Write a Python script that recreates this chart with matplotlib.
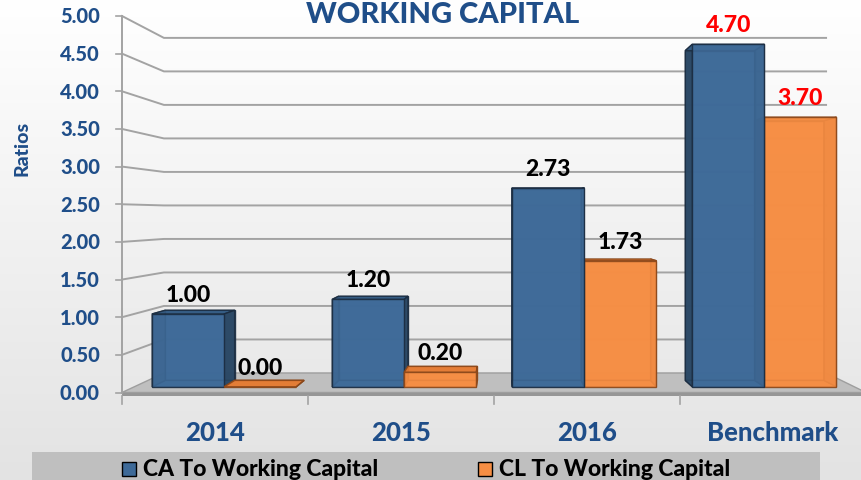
"""
Working capital ratios: 3D-look clustered columns (CA vs CL to working capital),
drawn on one full-figure axes with a small perspective helper.
"""
import numpy as np
import matplotlib
matplotlib.use("Agg")
import matplotlib.pyplot as plt
from matplotlib.patches import Polygon, Rectangle
from matplotlib.colors import LinearSegmentedColormap

plt.rcParams["font.family"] = ["Lato", "DejaVu Sans"]

# --- data ---
categories = ["2014", "2015", "2016", "Benchmark"]
ca_ratio = [1.00, 1.20, 2.73, 4.70]
cl_ratio = [0.00, 0.20, 1.73, 3.70]
label_colors = ["black", "black", "black", "red"]
y_ticks = [0.0, 0.5, 1.0, 1.5, 2.0, 2.5, 3.0, 3.5, 4.0, 4.5, 5.0]
series_names = ["CA To Working Capital", "CL To Working Capital"]

# --- geometry of the fake 3D scene (pixels of an 861x481 canvas) ---
W, H = 861, 481
X0, SLOT = 122, 186       # px of first category edge, px per category
Y0, UNIT = 393.5, 75.3    # px of value 0, px per ratio unit
CX = (503 - X0) / SLOT - 0.5   # vanishing point in data units
CY = (Y0 - 216) / UNIT
SHRINK = 0.11                  # scale lost from front (z=0) to back wall (z=1)
Z_FRONT, Z_BACK = 0.29, 0.62   # depth of the bars
BAR_W = 0.4
WEIGHT = 900

BLUE = dict(front="#3E6A98", side="#28445F", top="#335A82", edge="#1B2C40")
ORANGE = dict(front="#F68E44", side="#C9692A", top="#E27A33", edge="#8A471A")
TEXT_BLUE = "#1F4E89"
GRID = "#A3A3A3"


def proj(u, v, z):
    k = 1 - SHRINK * z
    return CX + (u - CX) * k, CY + (v - CY) * k


def px(n):
    # pixels -> points for annotate offsets
    return n * 72 / 100


def quad(ax, pts, **kw):
    ax.add_patch(Polygon([proj(*p) for p in pts], closed=True, **kw))


def bar3d(ax, u0, u1, h, col, zorder):
    z0, z1 = Z_FRONT, Z_BACK
    faces = {
        "back": [(u0, 0, z1), (u1, 0, z1), (u1, h, z1), (u0, h, z1)],
        "bottom": [(u0, 0, z0), (u1, 0, z0), (u1, 0, z1), (u0, 0, z1)],
        "left": [(u0, 0, z0), (u0, 0, z1), (u0, h, z1), (u0, h, z0)],
        "right": [(u1, 0, z0), (u1, 0, z1), (u1, h, z1), (u1, h, z0)],
        "top": [(u0, h, z0), (u1, h, z0), (u1, h, z1), (u0, h, z1)],
        "front": [(u0, 0, z0), (u1, 0, z0), (u1, h, z0), (u0, h, z0)],
    }
    near = "right" if (u0 + u1) / 2 < CX else "left"
    far = "left" if near == "right" else "right"
    order = ["back", "bottom", far, "top", near, "front"]
    if h > CY:
        order = ["back", "bottom", far, near, "top", "front"]
    for i, name in enumerate(order):
        fc = col["front"] if name in ("front", "back", "bottom") else \
            col["top"] if name == "top" else col["side"]
        quad(ax, faces[name], facecolor=fc, edgecolor=col["edge"],
             linewidth=1.0, alpha=0.88, zorder=zorder + i * 0.01)


fig = plt.figure(figsize=(W / 100, H / 100), dpi=100)
ax = fig.add_axes([0, 0, 1, 1])
xlim = ((0 - X0) / SLOT - 0.5, (W - X0) / SLOT - 0.5)
ylim = ((Y0 - H) / UNIT, Y0 / UNIT)

# background gradient
bg = LinearSegmentedColormap.from_list("bg", ["#E3E3E3", "#FFFFFF"])
ax.imshow(np.linspace(0, 1, 256).reshape(-1, 1), extent=[*xlim, *ylim],
          origin="lower", aspect="auto", cmap=bg, zorder=0)

n = len(categories)
left, right = -0.5, n - 0.5

# floor
quad(ax, [(left, 0, 0), (right, 0, 0), (right, 0, 1), (left, 0, 1)],
     facecolor="#BFBFBF", edgecolor="#9E9E9E", linewidth=1, zorder=1)
quad(ax, [(left, 0, 0), (right, 0, 0), (right, -0.05, 0), (left, -0.05, 0)],
     facecolor="#969696", edgecolor="none", zorder=1)

# gridlines on the left and back walls
for v in y_ticks[1:]:
    xs, ys = zip(proj(left, v, 0), proj(left, v, 1), proj(right, v, 1))
    ax.plot(xs, ys, color=GRID, lw=1.4, zorder=1)

# front value axis with ticks and labels
xs, ys = zip(proj(left, 0, 0), proj(left, y_ticks[-1], 0))
ax.plot(xs, ys, color=GRID, lw=1.4, zorder=1)
for v in y_ticks:
    ax.plot([left - 6 / SLOT, left], [v, v], color=GRID, lw=1.2, zorder=1)
    ax.annotate(f"{v:.2f}", (left, v), xytext=(-px(22), 0),
                textcoords="offset points", ha="right", va="center",
                fontsize=14.5, color=TEXT_BLUE, fontweight=WEIGHT)

# category ticks and labels
for i in range(n + 1):
    ax.plot([i - 0.5, i - 0.5], [-0.046, -0.153], color=GRID, lw=1.2, zorder=1)
for i, cat in enumerate(categories):
    ax.annotate(cat, (i, 0), xytext=(0, -px(40)), textcoords="offset points",
                ha="center", va="center", fontsize=18.5, color=TEXT_BLUE,
                fontweight=WEIGHT)

# bars, farthest from the vanishing line first
bars = []
for i in range(n):
    bars.append((i - BAR_W, i, ca_ratio[i], BLUE, label_colors[i]))
    bars.append((i, i + BAR_W, cl_ratio[i], ORANGE, label_colors[i]))
bars.sort(key=lambda b: -abs((b[0] + b[1]) / 2 - CX))
for j, (u0, u1, h, col, lc) in enumerate(bars):
    bar3d(ax, u0, u1, h, col, zorder=2 + j * 0.1)

for u0, u1, h, col, lc in bars:
    ax.annotate(f"{h:.2f}", proj((u0 + u1) / 2, h, Z_FRONT),
                xytext=(0, px(13)), textcoords="offset points",
                ha="center", va="baseline", fontsize=16.5, color=lc,
                fontweight=WEIGHT, zorder=10)

ax.set_xlim(*xlim)
ax.set_ylim(*ylim)
ax.axis("off")

# title (kept just inside the top edge) and axis title
fig.text(443 / W, 1 - 23 / H, "WORKING CAPITAL", ha="center", va="baseline",
         fontsize=21, color=TEXT_BLUE, fontweight=WEIGHT)
fig.text(22 / W, 1 - 148 / H, "Ratios", rotation=90, ha="center",
         va="center", fontsize=14, color=TEXT_BLUE, fontweight=WEIGHT)

# legend band
fig.add_artist(Rectangle((32 / W, 0), (820 - 32) / W, 28 / H,
                         transform=fig.transFigure, facecolor="#BFBFBF",
                         edgecolor="none"))
for name, col, x in zip(series_names, [BLUE, ORANGE], [122, 478]):
    fig.add_artist(Rectangle((x / W, 1 - 477 / H), 14 / W, 14 / H,
                             transform=fig.transFigure, facecolor=col["front"],
                             edgecolor="black", linewidth=1))
    fig.text((x + 21) / W, 1 - 470 / H, name, ha="left", va="center",
             fontsize=16.5, color="black", fontweight=WEIGHT)

fig.savefig("out.png", dpi=100)
